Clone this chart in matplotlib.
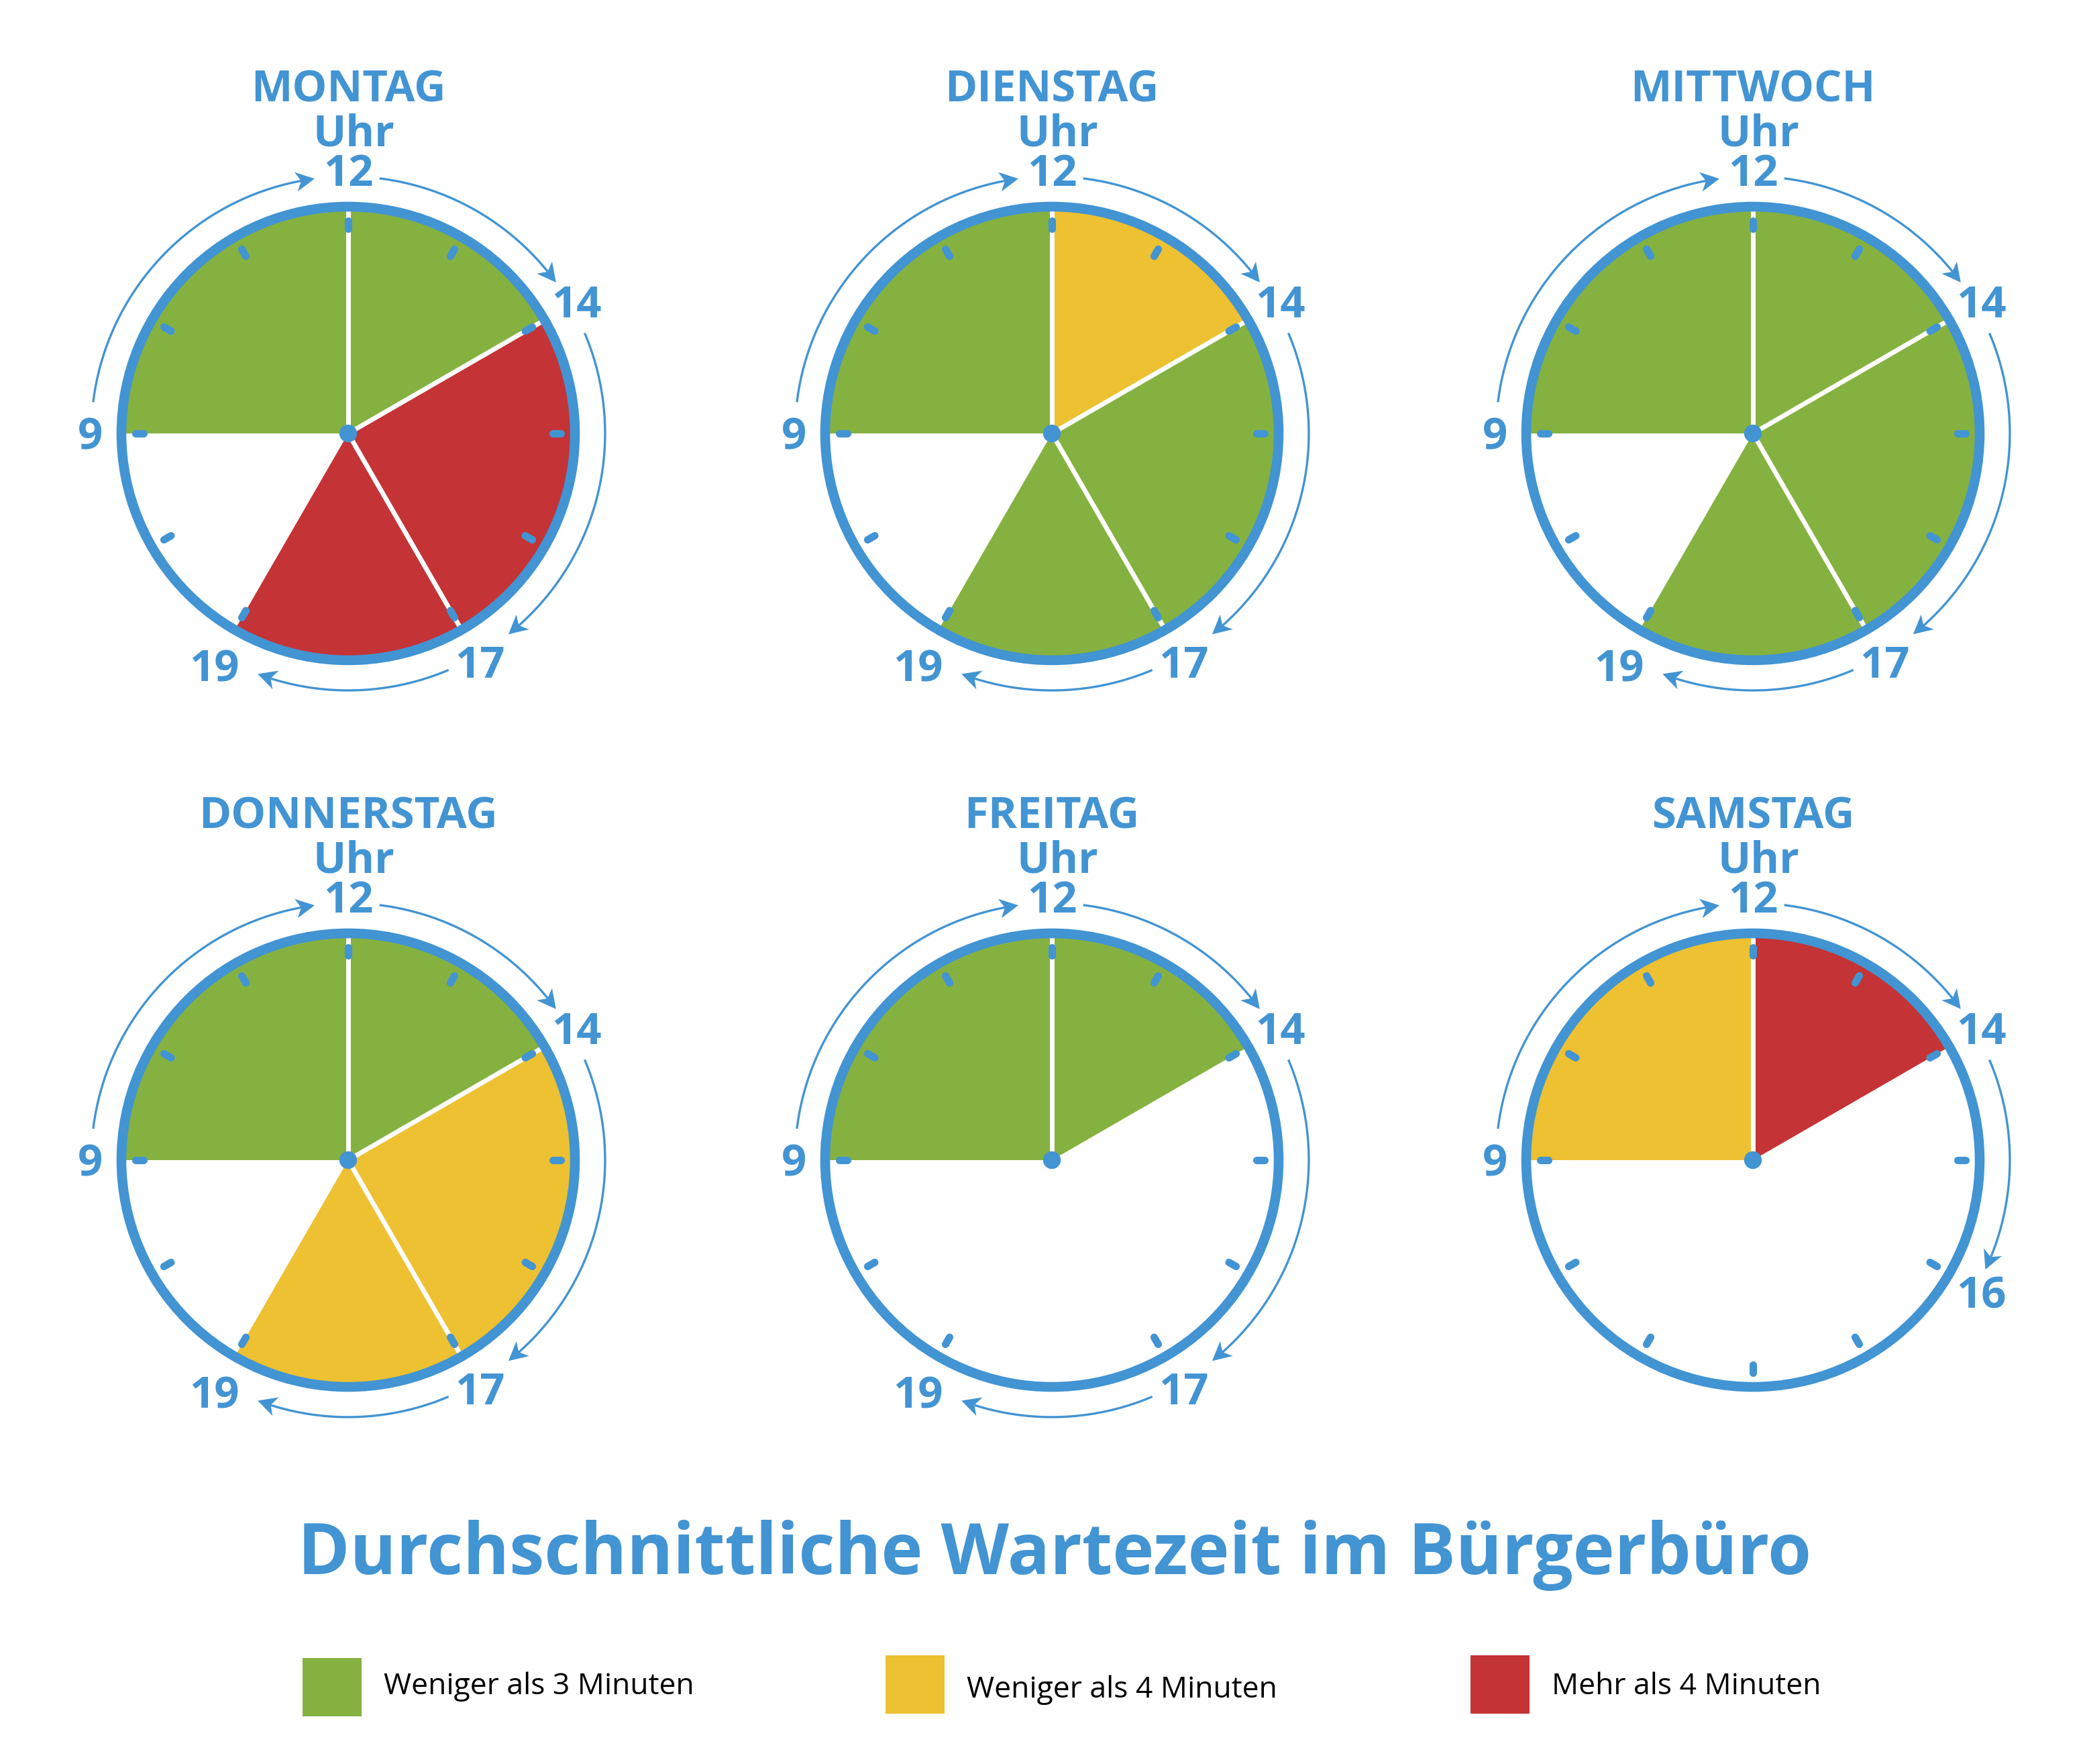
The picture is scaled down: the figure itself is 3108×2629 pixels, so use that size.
import numpy as np
import matplotlib
matplotlib.use("Agg")
import matplotlib.pyplot as plt
from matplotlib.patches import Wedge, Circle, Rectangle, Polygon


DAYS = ["MONTAG", "DIENSTAG", "MITTWOCH", "DONNERSTAG", "FREITAG", "SAMSTAG"]

# Grenzen der Zeitfenster (Uhrzeit) je Tag
SLOT_HOURS = [
    [9, 12, 14, 17, 19],
    [9, 12, 14, 17, 19],
    [9, 12, 14, 17, 19],
    [9, 12, 14, 17, 19],
    [9, 12, 14, 17, 19],
    [9, 12, 14, 16],
]

# Wartezeit je Zeitfenster: 0 = <3 min, 1 = <4 min, 2 = >4 min, None = leer
WAIT_LEVEL = [
    [0, 0, 2, 2],
    [0, 1, 0, 0],
    [0, 0, 0, 0],
    [0, 0, 1, 1],
    [0, 0, None, None],
    [1, 2, None],
]

LEVEL_LABELS = ["Weniger als 3 Minuten", "Weniger als 4 Minuten", "Mehr als 4 Minuten"]
LEVEL_COLORS = ["#85B140", "#EDC131", "#C43336"]

TITLE = "Durchschnittliche Wartezeit im Bürgerbüro"

BLUE = "#4294D3"
W, H = 3108, 2629
DPI = 100
R_PX = 338.0            # clock ring radius in pixels
COL_X = [519, 1568, 2613]
ROW_Y = [646, 1729]

# gap (degrees) between an arrow end and the hour label it points to
END_GAP = {12: 7.5, 14: 6.0, 16: 4.8, 17: 8.6, 19: 9.4}
START_GAP = 7.0
LABEL_R = {9: 1.137, 19: 1.18}

plt.rcParams["font.family"] = ["Open Sans", "DejaVu Sans"]


def clock_angle(hour):
    a = 90 - (hour % 12) * 30
    return a + 360 if a <= -180 else a


def polar(r, deg):
    a = np.radians(deg)
    return r * np.cos(a), r * np.sin(a)


def draw_arrow(ax, a0, a1, r=1.133):
    # arc from a0 to a1 (clockwise), stealth-like head at a1
    L, w, notch = 0.083, 0.043, 0.060
    tip = np.array(polar(r, a1))
    back = np.array(polar(r, a1 + np.degrees(L / r)))
    d = (tip - back) / np.linalg.norm(tip - back)
    n = np.array([-d[1], d[0]])
    a_line_end = a1 + np.degrees(notch / r)
    th = np.linspace(a0, a_line_end, 80)
    xs, ys = polar(r, th)
    ax.plot(xs, ys, color=BLUE, lw=2.4, solid_capstyle="butt", zorder=4)
    head = [tip, tip - L * d + w * n, tip - notch * d, tip - L * d - w * n]
    ax.add_patch(Polygon(head, closed=True, facecolor=BLUE, edgecolor="none", zorder=4))


def draw_clock(ax, day, hours, levels):
    # coloured wedges
    for h0, h1, lvl in zip(hours[:-1], hours[1:], levels):
        if lvl is None:
            continue
        t1 = clock_angle(h1)
        ax.add_patch(Wedge((0, 0), 0.995, t1, t1 + 30 * (h1 - h0),
                           facecolor=LEVEL_COLORS[lvl], edgecolor="none", zorder=1))

    # white hands between two filled slots
    for i in range(1, len(hours) - 1):
        if levels[i - 1] is not None and levels[i] is not None:
            x, y = polar(0.985, clock_angle(hours[i]))
            ax.plot([0, x], [0, y], color="white", lw=5, solid_capstyle="butt", zorder=2)

    # hour ticks (the 6 o'clock mark is only there on the short Saturday dial)
    for k in range(12):
        if k == 6 and hours[-1] > 18:
            continue
        x0, y0 = polar(0.902, 90 - k * 30)
        x1, y1 = polar(0.938, 90 - k * 30)
        ax.plot([x0, x1], [y0, y1], color=BLUE, lw=8, solid_capstyle="round", zorder=3)

    ax.add_patch(Circle((0, 0), 1.0, fill=False, edgecolor=BLUE, lw=10.5, zorder=4))
    ax.add_patch(Circle((0, 0), 0.039, facecolor=BLUE, edgecolor="none", zorder=5))

    # arrows between the hour labels
    for h0, h1 in zip(hours[:-1], hours[1:]):
        a0 = clock_angle(h0)
        a1 = a0 - 30 * (h1 - h0)
        draw_arrow(ax, a0 - START_GAP, a1 + END_GAP.get(h1, 7.5))

    # hour labels
    for h in hours:
        x, y = polar(LABEL_R.get(h, 1.163), clock_angle(h))
        ax.text(x, y - 0.071, str(h), ha="center", va="baseline", fontsize=47,
                fontweight="bold", color=BLUE, zorder=6)

    ax.text(0, 1.464, day, ha="center", va="baseline", fontsize=47,
            fontweight="bold", color=BLUE)
    ax.text(0.024, 1.269, "Uhr", ha="center", va="baseline", fontsize=47,
            fontweight="bold", color=BLUE)


fig = plt.figure(figsize=(W / DPI, H / DPI), dpi=DPI)
fig.patch.set_facecolor("white")

half = 560
for i, day in enumerate(DAYS):
    cx, cy = COL_X[i % 3], ROW_Y[i // 3]
    ax = fig.add_axes([(cx - half) / W, 1 - (cy + half) / H, 2 * half / W, 2 * half / H])
    lim = half / R_PX
    ax.set_xlim(-lim, lim)
    ax.set_ylim(-lim, lim)
    ax.axis("off")
    ax.patch.set_visible(False)
    draw_clock(ax, day, SLOT_HOURS[i], WAIT_LEVEL[i])

fig.text(1572 / W, 1 - 2346 / H, TITLE, ha="center", va="baseline", fontsize=75.5,
         fontweight="bold", color=BLUE)

# legend
leg_x = [451, 1320, 2192]
leg_y = [2471, 2467, 2467]
txt_y = [2525, 2530, 2525]
for x, y, ty, label, col in zip(leg_x, leg_y, txt_y, LEVEL_LABELS, LEVEL_COLORS):
    fig.add_artist(Rectangle((x / W, 1 - (y + 87) / H), 88 / W, 87 / H,
                             transform=fig.transFigure, facecolor=col, edgecolor="none"))
    fig.text((x + 121) / W, 1 - ty / H, label, ha="left", va="baseline",
             fontsize=32, color="black")

fig.savefig("out.png", dpi=DPI)
